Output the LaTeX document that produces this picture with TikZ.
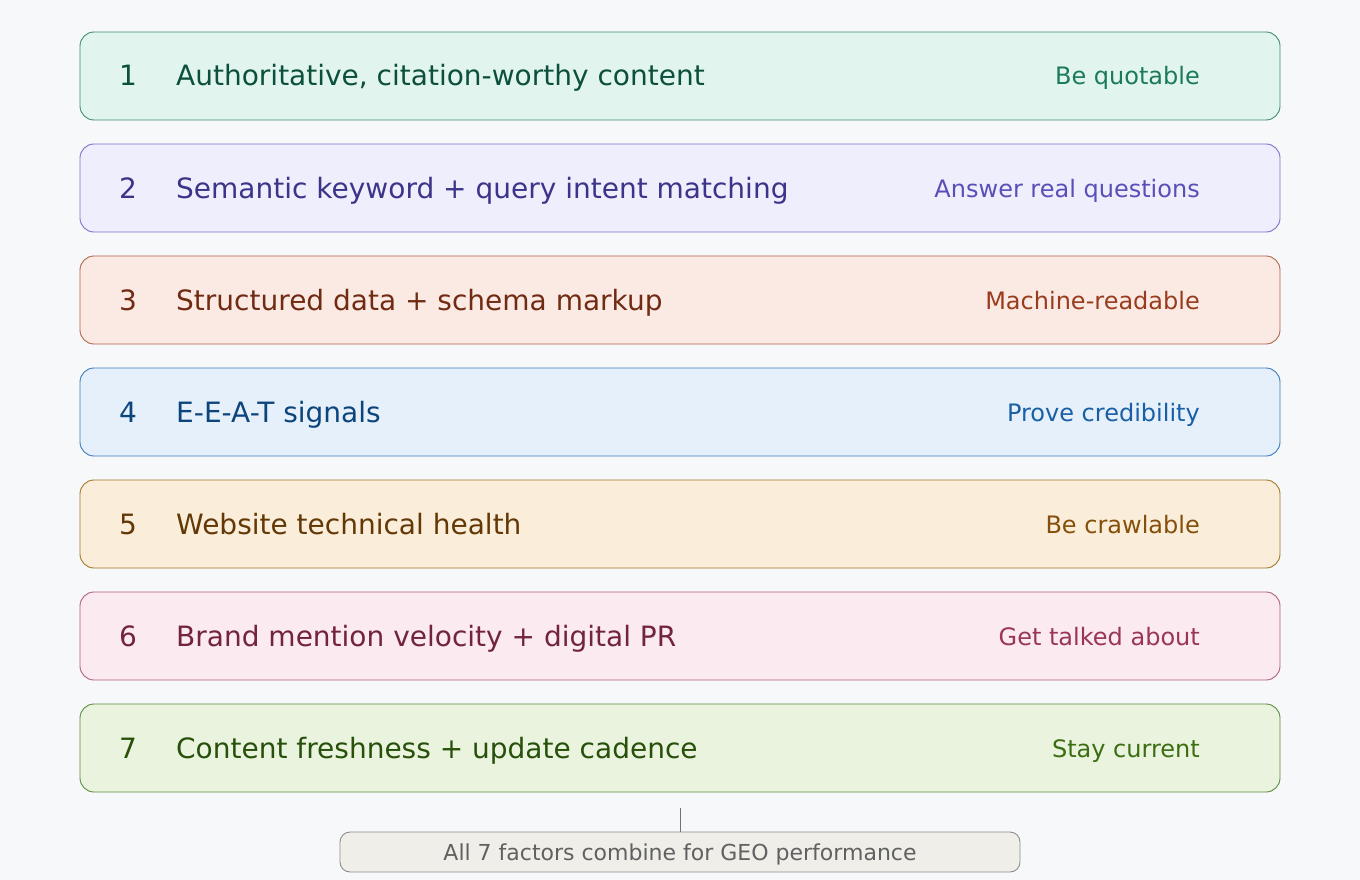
\documentclass[tikz,border=0pt]{standalone}
\usepackage{fontspec}
\setmainfont{DejaVu Sans}
\begin{document}
\begin{tikzpicture}[x=1pt,y=-1pt,
  rowbox/.style={draw, line width=0.9pt, rounded corners=14pt, minimum width=1200pt, minimum height=88pt, inner sep=0pt},
  numtxt/.style={anchor=base, inner sep=0pt, font=\fontsize{28}{32}\selectfont},
  maintxt/.style={anchor=base west, inner sep=0pt, font=\fontsize{28}{32}\selectfont},
  sidetxt/.style={anchor=base east, inner sep=0pt, font=\fontsize{24}{28}\selectfont},
  sumbox/.style={draw=black!45, fill=sumfill, line width=0.9pt, rounded corners=10pt, minimum width=680pt, minimum height=40pt, inner sep=0pt},
  sumtxt/.style={anchor=base, inner sep=0pt, text=black!62, font=\fontsize{22}{26}\selectfont},
  link/.style={draw=black!55, line width=0.9pt}]
\definecolor{bg}{HTML}{F7F8FA}
\definecolor{sumfill}{HTML}{EFEEE9}
\definecolor{fA}{HTML}{E1F5EE}\definecolor{dA}{HTML}{3E8C70}\definecolor{tA}{HTML}{0B4F3C}\definecolor{sA}{HTML}{1A7A5A}
\definecolor{fB}{HTML}{EEEEFC}\definecolor{dB}{HTML}{7C72C8}\definecolor{tB}{HTML}{3C3489}\definecolor{sB}{HTML}{5A4FB8}
\definecolor{fC}{HTML}{FBEAE4}\definecolor{dC}{HTML}{B0664A}\definecolor{tC}{HTML}{712B13}\definecolor{sC}{HTML}{993C1D}
\definecolor{fD}{HTML}{E6F0FA}\definecolor{dD}{HTML}{3A7AB8}\definecolor{tD}{HTML}{0C447C}\definecolor{sD}{HTML}{185FA5}
\definecolor{fE}{HTML}{FAEEDA}\definecolor{dE}{HTML}{A0782A}\definecolor{tE}{HTML}{633806}\definecolor{sE}{HTML}{854F0B}
\definecolor{fF}{HTML}{FBEAF0}\definecolor{dF}{HTML}{B06080}\definecolor{tF}{HTML}{72243E}\definecolor{sF}{HTML}{993556}
\definecolor{fG}{HTML}{EAF3DE}\definecolor{dG}{HTML}{5A8A3A}\definecolor{tG}{HTML}{27500A}\definecolor{sG}{HTML}{3B6D11}
\useasboundingbox (0,0) rectangle (1360,880);
\fill[bg] (0,0) rectangle (1360,880);
\foreach \i/\c/\main/\side in {
  1/A/{Authoritative, citation-worthy content}/{Be quotable},
  2/B/{Semantic keyword + query intent matching}/{Answer real questions},
  3/C/{Structured data + schema markup}/{Machine-readable},
  4/D/{E-E-A-T signals}/{Prove credibility},
  5/E/{Website technical health}/{Be crawlable},
  6/F/{Brand mention velocity + digital PR}/{Get talked about},
  7/G/{Content freshness + update cadence}/{Stay current}}{
  \pgfmathsetmacro{\yc}{76+112*(\i-1)}
  \node[rowbox, draw=d\c, fill=f\c] (box\i) at (680,\yc) {};
  \node[numtxt, text=t\c] (num\i) at (128,\yc+10) {\i};
  \node[maintxt, text=t\c] (lab\i) at (176,\yc+10) {\main};
  \node[sidetxt, text=s\c] (side\i) at (1200,\yc+9) {\side};
}
\node[sumbox] (sum) at (680,852) {};
\node[sumtxt] (sumlab) at (680,860) {All 7 factors combine for GEO performance};
\coordinate (top) at (680,808);
\draw[link] (top) -- (sum.north);
\end{tikzpicture}
\end{document}
